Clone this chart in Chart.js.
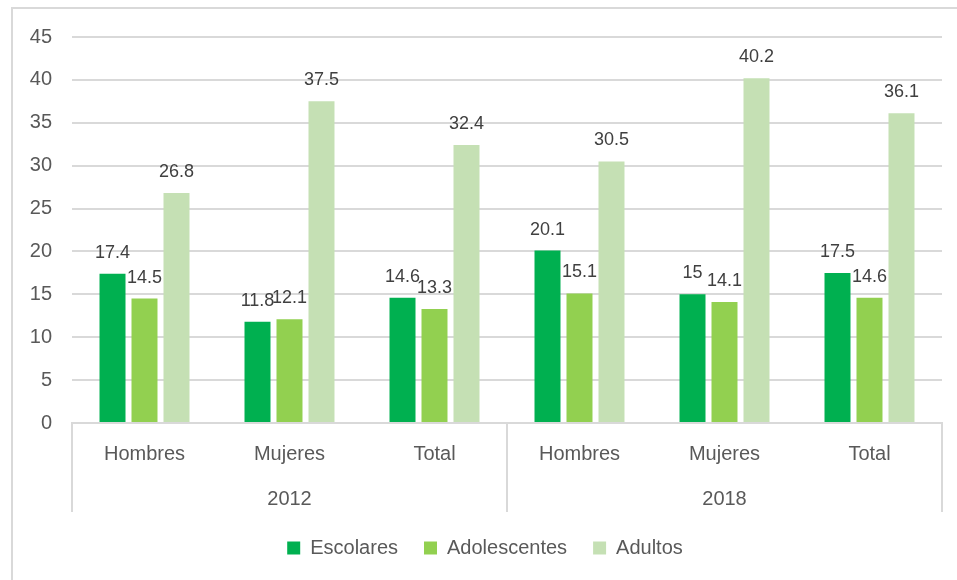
<!DOCTYPE html>
<html>
<head>
<meta charset="utf-8">
<script src="https://cdn.jsdelivr.net/npm/chart.js@4/dist/chart.umd.min.js"></script>
<style>
  body { margin: 0; background: #fff; overflow: hidden; }
  #frame { position: absolute; left: 11px; top: 7px; width: 1000px; height: 700px; border: 2px solid #d9d9d9; }
  #box { position: absolute; left: 0; top: 0; width: 957px; height: 580px; }
</style>
</head>
<body>
<div id="frame"></div>
<div id="box"><canvas id="chart"></canvas></div>
<script>
// datos
const categorias = ['Hombres', 'Mujeres', 'Total', 'Hombres', 'Mujeres', 'Total'];
const anios = ['2012', '2018'];
const escolares = [17.4, 11.8, 14.6, 20.1, 15, 17.5];
const adolescentes = [14.5, 12.1, 13.3, 15.1, 14.1, 14.6];
const adultos = [26.8, 37.5, 32.4, 30.5, 40.2, 36.1];
const yTicks = [0, 5, 10, 15, 20, 25, 30, 35, 40, 45];

const FONT = "'Liberation Sans', Arial, sans-serif";
const GRIS = '#595959';
const LINEA = '#d9d9d9';

// etiquetas encima de cada barra
const etiquetas = {
    id: 'etiquetas',
    afterDatasetsDraw(chart) {
        const ctx = chart.ctx;
        ctx.save();
        ctx.font = '18px ' + FONT;
        ctx.fillStyle = '#404040';
        ctx.textAlign = 'center';
        ctx.textBaseline = 'alphabetic';
        chart.data.datasets.forEach((ds, i) => {
            chart.getDatasetMeta(i).data.forEach((bar, j) => {
                ctx.fillText(String(ds.data[j]), bar.x, bar.y - 16);
            });
        });
        ctx.restore();
    }
};

// lineas verticales que separan los grupos 2012 / 2018
const separadores = {
    id: 'separadores',
    afterDraw(chart) {
        const x = chart.scales.x, x2 = chart.scales.x2;
        const medio = (x.getPixelForValue(2) + x.getPixelForValue(3)) / 2;
        const ctx = chart.ctx;
        ctx.save();
        ctx.strokeStyle = LINEA;
        ctx.lineWidth = 2;
        [x.left, medio, x.right].forEach(px => {
            ctx.beginPath();
            ctx.moveTo(px, x.top);
            ctx.lineTo(px, x2.bottom);
            ctx.stroke();
        });
        ctx.restore();
    }
};

new Chart(document.getElementById('chart'), {
    type: 'bar',
    data: {
        labels: categorias,
        datasets: [
            { label: 'Escolares', data: escolares, backgroundColor: '#00b050' },
            { label: 'Adolescentes', data: adolescentes, backgroundColor: '#92d050' },
            { label: 'Adultos', data: adultos, backgroundColor: '#c5e0b4' }
        ]
    },
    options: {
        responsive: true,
        maintainAspectRatio: false,
        animation: false,
        datasets: { bar: { categoryPercentage: 0.662, barPercentage: 0.8125 } },
        layout: { padding: { left: 28, right: 15, top: 37, bottom: 12 } },
        scales: {
            y: {
                min: 0, max: 45,
                afterFit: s => { s.width = 44; },
                afterBuildTicks: s => { s.ticks = yTicks.map(v => ({ value: v })); },
                ticks: { padding: 20, color: GRIS, font: { family: FONT, size: 20 } },
                grid: { color: LINEA, lineWidth: 2, drawTicks: false },
                border: { display: false }
            },
            x: {
                afterFit: s => { s.height = 52; },
                ticks: { padding: 11, color: GRIS, font: { family: FONT, size: 20 } },
                grid: { display: false },
                border: { display: true, color: LINEA, width: 2 }
            },
            x2: {
                type: 'category',
                labels: anios,
                position: 'bottom',
                offset: true,
                afterFit: s => { s.height = 37; },
                ticks: { padding: 4, color: GRIS, font: { family: FONT, size: 20 } },
                grid: { display: false },
                border: { display: false }
            }
        },
        plugins: {
            legend: {
                position: 'bottom',
                labels: {
                    boxWidth: 13, boxHeight: 13, padding: 26,
                    color: GRIS, font: { family: FONT, size: 20 }
                }
            },
            tooltip: { enabled: false }
        }
    },
    plugins: [etiquetas, separadores]
});
</script>
</body>
</html>
